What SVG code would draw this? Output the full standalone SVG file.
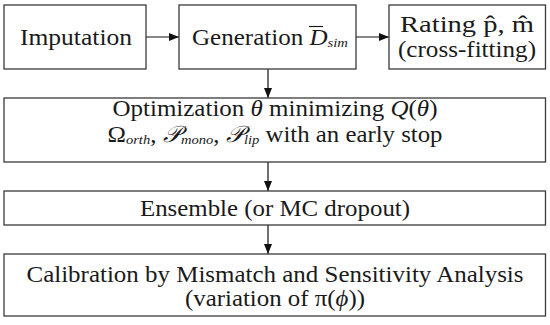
<svg xmlns="http://www.w3.org/2000/svg" width="550" height="325" viewBox="0 0 550 325">
<defs>
<style>
.box{fill:#fff;stroke:#3a3a3a;stroke-width:1.3}
.c{stroke:#111;stroke-width:1.2;fill:none}
</style>
<marker id="ah" viewBox="0 0 10 8" refX="10" refY="4" markerWidth="10" markerHeight="8" markerUnits="userSpaceOnUse" orient="auto">
<path d="M0,0 L10,4 L0,8 Z" fill="#111"/>
</marker>
</defs>
<rect width="550" height="325" fill="#fff"/>
<g id="connectors">
<line class="c" x1="146" y1="37" x2="179" y2="37" marker-end="url(#ah)"/>
<line class="c" x1="356" y1="37" x2="389" y2="37" marker-end="url(#ah)"/>
<line class="c" x1="268" y1="69" x2="268" y2="98" marker-end="url(#ah)"/>
<line class="c" x1="268" y1="162" x2="268" y2="191" marker-end="url(#ah)"/>
<line class="c" x1="268" y1="225" x2="268" y2="254" marker-end="url(#ah)"/>
</g>
<g id="imputation">
<rect class="box" x="4" y="5" width="142" height="64"/>
<text font-family="Liberation Serif" font-size="23" fill="#1a1a1a" text-anchor="middle" x="76" y="45" textLength="112" lengthAdjust="spacingAndGlyphs">Imputation</text>
</g>
<g id="generation">
<rect class="box" x="179" y="5" width="177" height="64"/>
<text font-family="Liberation Serif" font-size="23" fill="#1a1a1a" text-anchor="middle" x="270" y="45" textLength="156" lengthAdjust="spacingAndGlyphs">Generation <tspan font-style="italic">D</tspan><tspan font-style="italic" font-size="13.5" dy="2">sim</tspan></text>
<line x1="309" y1="26.5" x2="323" y2="26.5" stroke="#111" stroke-width="1.1"/>
</g>
<g id="rating">
<rect class="box" x="389" y="5" width="156.5" height="64"/>
<text font-family="Liberation Serif" font-size="23" fill="#1a1a1a" text-anchor="middle" x="467" y="32" textLength="134" lengthAdjust="spacingAndGlyphs">Rating p̂, m̂</text>
<text font-family="Liberation Serif" font-size="23" fill="#1a1a1a" text-anchor="middle" x="467" y="57" textLength="138" lengthAdjust="spacingAndGlyphs">(cross-fitting)</text>
</g>
<g id="optimization">
<rect class="box" x="4" y="98" width="541.5" height="64"/>
<text font-family="Liberation Serif" font-size="23" fill="#1a1a1a" text-anchor="middle" x="275" y="116" textLength="325" lengthAdjust="spacingAndGlyphs">Optimization <tspan font-style="italic">θ</tspan> minimizing <tspan font-style="italic">Q</tspan>(<tspan font-style="italic">θ</tspan>)</text>
<text font-family="Liberation Serif" font-size="23" fill="#1a1a1a" text-anchor="middle" x="275" y="142" textLength="335" lengthAdjust="spacingAndGlyphs">Ω<tspan font-style="italic" font-size="13.5" dy="2">orth</tspan><tspan dy="-2">, </tspan><tspan font-style="italic">𝒫</tspan><tspan font-style="italic" font-size="13.5" dy="2">mono</tspan><tspan dy="-2">, </tspan><tspan font-style="italic">𝒫</tspan><tspan font-style="italic" font-size="13.5" dy="2">lip</tspan><tspan dy="-2"> with an early stop</tspan></text>
</g>
<g id="ensemble">
<rect class="box" x="4" y="191" width="541.5" height="34"/>
<text font-family="Liberation Serif" font-size="23" fill="#1a1a1a" text-anchor="middle" x="275" y="216" textLength="270" lengthAdjust="spacingAndGlyphs">Ensemble (or MC dropout)</text>
</g>
<g id="calibration">
<rect class="box" x="4" y="254" width="541.5" height="62"/>
<text font-family="Liberation Serif" font-size="23" fill="#1a1a1a" text-anchor="middle" x="275" y="282" textLength="497" lengthAdjust="spacingAndGlyphs">Calibration by Mismatch and Sensitivity Analysis</text>
<text font-family="Liberation Serif" font-size="23" fill="#1a1a1a" text-anchor="middle" x="275" y="306" textLength="180" lengthAdjust="spacingAndGlyphs">(variation of π(<tspan font-style="italic">ϕ</tspan>))</text>
</g>
</svg>
